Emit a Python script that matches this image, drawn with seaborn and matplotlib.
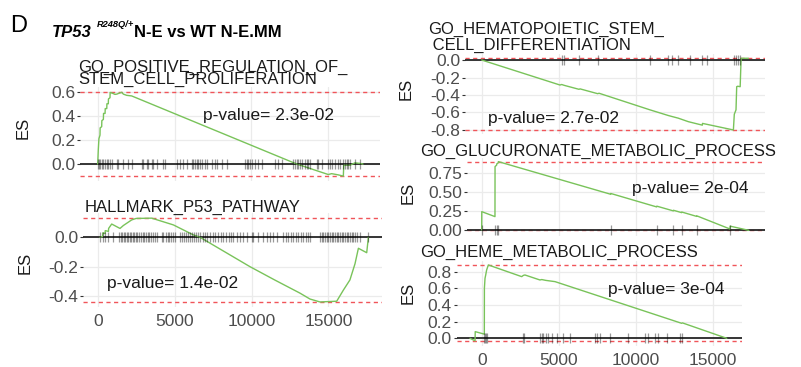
import numpy as np
import pandas as pd
import matplotlib
matplotlib.use("Agg")
import matplotlib.pyplot as plt
import seaborn as sns

# 1. Data (gene rank, running enrichment score)
pos_reg_x = [0, 40, 80, 150, 160, 260, 270, 370, 380, 480, 490, 590, 600, 690, 700, 800, 810, 1000, 1125, 1240,
             1340, 1560, 1670, 1885, 2210, 12940, 14000, 14990, 15210, 15430, 15640, 15970, 16000, 16400, 16730,
             17060, 17250]
pos_reg_es = [0.0, 0.12, 0.21, 0.24, 0.30, 0.31, 0.36, 0.37, 0.42, 0.42, 0.46, 0.46, 0.50, 0.50, 0.54, 0.55, 0.595,
              0.585, 0.578, 0.58, 0.585, 0.595, 0.58, 0.57, 0.565, 0.0, -0.045, -0.087, -0.08, -0.085, -0.09, -0.1,
              -0.01, -0.01, 0.01, 0.005, 0.0]
pos_reg_hits = [0, 60, 150, 260, 370, 480, 590, 690, 800, 910, 1240, 1340, 1670, 1990, 2210, 2860, 2970, 3190, 3290,
                3510, 3620, 3840, 4270, 4380, 5140, 5350, 5570, 5790, 6110, 6220, 6330, 6440, 6540, 6650, 6760, 6980,
                7090, 7410, 7630, 7740, 8060, 8390, 9590, 9690, 9800, 9900, 10010, 10230, 10440, 10660, 11530, 11740,
                11960, 12720, 12830, 12940, 13040, 13150, 13260, 13480, 13590, 13700, 13800, 14240, 14350, 14560,
                14990, 15100, 15210, 15430, 15640, 15750, 15970, 16080, 16190, 16300, 16400, 16730, 17060]

p53_x = [150, 320, 330, 480, 490, 700, 710, 910, 1000, 1450, 1670, 2210, 2500, 3510, 4920, 6220, 6650, 8000, 9900,
         11500, 13150, 13800, 14450, 15540, 15970, 16400, 16730, 16950, 17490, 17600]
p53_es = [0.0, 0.005, 0.03, 0.025, 0.045, 0.04, 0.06, 0.09, 0.085, 0.06, 0.08, 0.118, 0.128, 0.13, 0.084, 0.016, 0.0,
          -0.083, -0.2, -0.29, -0.38, -0.42, -0.44, -0.435, -0.36, -0.29, -0.18, -0.075, -0.105, 0.0]
p53_hits = [150, 320, 470, 690, 1020, 1410, 1490, 1600, 1690, 1780, 1880, 1990, 2100, 2190, 2270, 2380, 2490, 2580,
            2710, 2820, 2920, 3030, 3140, 3250, 3360, 3470, 3570, 3700, 3830, 4160, 4270, 4440, 4550, 4660, 4770,
            4870, 5030, 5350, 5480, 5610, 5740, 5870, 6000, 6130, 6260, 6390, 6520, 6650, 6820, 6980, 7130, 7300,
            7470, 7650, 7820, 7990, 8170, 8340, 8510, 8690, 8820, 9040, 9250, 9470, 9690, 10010, 10120, 10440,
            10770, 10990, 11200, 11420, 11640, 12070, 12240, 12390, 12550, 12720, 12890, 13040, 13200, 13370,
            13540, 13700, 13800, 14450, 14560, 14670, 14780, 14890, 15000, 15100, 15210, 15320, 15430, 15540,
            15650, 15750, 15860, 15970, 16080, 16190, 16300, 16400, 16510, 16620, 16730, 16880, 17050, 17600]

hsc_x = [0, 5070, 5180, 5350, 6300, 6370, 7510, 7600, 10900, 12090, 12300, 12730, 13380, 14290, 14300, 14570, 16300,
         16360, 16470, 16515, 16580, 16740, 16800, 17270]
hsc_es = [0.0, -0.286, -0.28, -0.29, -0.335, -0.33, -0.385, -0.38, -0.57, -0.635, -0.645, -0.665, -0.705, -0.745,
          -0.725, -0.735, -0.8, -0.62, -0.57, -0.305, -0.3, -0.305, 0.02, 0.02]
hsc_hits = [5180, 5350, 6300, 7510, 10900, 12090, 12300, 12730, 13490, 14290, 14570, 16360, 16470, 16580, 16740]

gluc_x = [0, 5, 860, 865, 970, 975, 1075, 1080, 8350, 8360, 11330, 11340, 12410, 12420, 12950, 12960, 13920, 13930,
          16080, 16090, 17300]
gluc_es = [0.0, 0.24, 0.175, 0.83, 0.85, 0.865, 0.88, 0.895, 0.468, 0.478, 0.302, 0.312, 0.25, 0.258, 0.227, 0.235,
           0.178, 0.185, 0.013, 0.05, -0.005]
gluc_hits = [0, 860, 970, 1075, 8350, 11330, 12410, 12950, 13920, 16080]

heme_x = [-760, -430, -420, 170, 175, 215, 260, 320, 430, 2590, 2700, 2800, 3770, 3890, 4150, 4750, 12950, 13000,
          15870]
heme_es = [0.0, -0.03, 0.08, 0.05, 0.6, 0.72, 0.76, 0.82, 0.88, 0.74, 0.755, 0.76, 0.70, 0.705, 0.695, 0.68, 0.18,
           0.185, 0.0]
heme_hits = [170, 215, 260, 320, 2690, 2760, 3780, 3890, 3990, 4150, 4310, 4530, 4860, 5280, 5720, 7340, 7450, 7660,
             8310, 9500, 10580, 10790, 11220, 11440, 11980, 12840, 12950]

titles = ["GO_POSITIVE_REGULATION_OF_\nSTEM_CELL_PROLIFERATION",
          "HALLMARK_P53_PATHWAY",
          "GO_HEMATOPOIETIC_STEM_\n CELL_DIFFERENTIATION",
          "GO_GLUCURONATE_METABOLIC_PROCESS",
          "GO_HEME_METABOLIC_PROCESS"]
pvalues = ["p-value= 2.3e-02", "p-value= 1.4e-02", "p-value= 2.7e-02", "p-value= 2e-04", "p-value= 3e-04"]
yticks = [[0.0, 0.2, 0.4, 0.6], [-0.4, -0.2, 0.0], [-0.8, -0.6, -0.4, -0.2, 0.0],
          [0.0, 0.25, 0.5, 0.75], [0.0, 0.2, 0.4, 0.6, 0.8]]
ytick_fmt = ["%.1f", "%.1f", "%.1f", "%.2f", "%.1f"]
xticks = [0, 5000, 10000, 15000]

curves = [(pos_reg_x, pos_reg_es, pos_reg_hits), (p53_x, p53_es, p53_hits), (hsc_x, hsc_es, hsc_hits),
          (gluc_x, gluc_es, gluc_hits), (heme_x, heme_es, heme_hits)]

# 2. Layout in pixels (box left, top, right, bottom), axis limits and text spots
W, H = 801, 367
boxes = [(80, 87.5, 380, 180.9), (83.3, 213.0, 381.7, 307.1), (465, 53.9, 765, 133.9),
         (466.7, 158.2, 765, 235.7), (456.7, 260.8, 741.7, 345.8)]
xlims = [(-1150, 18355), (-936, 18465), (-1082, 18348), (-971, 18348), (-1619, 16839)]
ylims = [(-0.14, 0.635), (-0.475, 0.165), (-0.845, 0.07), (-0.075, 0.94), (-0.09, 0.93)]
show_x = [False, True, False, False, True]
# top edge of the title block, and line spacing for the two-line titles
title_pos = [(78.5, 59.8), (85, 199.8), (428.3, 21.5), (420, 143.8), (420, 245)]
title_ls = [0.72, 1.0, 1.06, 1.0, 1.0]
es_pos = [(23, 127.5), (25, 263), (406, 89), (408, 193), (408, 293)]
pval_pos = [(6866, 0.365), (585, -0.347), (430, -0.716), (9715, 0.48), (8200, 0.532)]

GREEN = "#79C35A"
RED = "#F0555A"
GREY = "#4D4D4D"

sns.set_theme(style="whitegrid")
plt.rcParams["font.family"] = ["Liberation Sans", "DejaVu Sans"]
plt.rcParams["grid.color"] = "#EBEBEB"
plt.rcParams["grid.linewidth"] = 0.9

fig = plt.figure(figsize=(W / 100, H / 100), dpi=100)
fig.patch.set_facecolor("white")

# 3. Draw the five running-score panels
for i, (cx, ces, hits) in enumerate(curves):
    x0, y0, x1, y1 = boxes[i]
    ax = fig.add_axes([x0 / W, 1 - y1 / H, (x1 - x0) / W, (y1 - y0) / H])
    ax.set_facecolor("white")
    ax.axhline(0, color="#262626", lw=1.3, zorder=2)
    ax.axhline(max(ces), color=RED, lw=1.0, ls=(0, (3, 2.5)), zorder=1.5)
    ax.axhline(min(ces), color=RED, lw=1.0, ls=(0, (3, 2.5)), zorder=1.5)
    sns.lineplot(x=cx, y=ces, ax=ax, color=GREEN, linewidth=1.0, estimator=None, sort=False, zorder=3)
    ax.plot(hits, np.zeros(len(hits)), linestyle="none", marker="|", markersize=7, mew=0.9,
            color="black", alpha=0.4, zorder=4)
    ax.set_xlim(*xlims[i])
    ax.set_ylim(*ylims[i])
    ax.set_xticks(xticks)
    ax.set_yticks(yticks[i])
    ax.set_yticklabels([ytick_fmt[i] % v for v in yticks[i]])
    if show_x[i]:
        ax.set_xticklabels([str(v) for v in xticks])
    else:
        ax.set_xticklabels([])
    ax.tick_params(axis="y", length=2, width=0.8, color="#333333", pad=1.5, labelsize=12.5, labelcolor=GREY, left=True)
    ax.tick_params(axis="x", length=0, pad=5, labelsize=12.5, labelcolor=GREY)
    ax.set_xlabel("")
    ax.set_ylabel("")
    for s in ax.spines.values():
        s.set_visible(False)
    ax.text(pval_pos[i][0], pval_pos[i][1], pvalues[i], fontsize=12.5, color="#1a1a1a", va="baseline", ha="left")
    fig.text(title_pos[i][0] / W, 1 - title_pos[i][1] / H, titles[i], fontsize=12, color="#1a1a1a",
             va="top", ha="left", linespacing=title_ls[i])
    fig.text(es_pos[i][0] / W, 1 - es_pos[i][1] / H, "ES", fontsize=12, rotation=90, va="center", ha="center",
             color="#1a1a1a")

# 4. Header
fig.text(10 / W, 1 - 32 / H, "D", fontsize=17, va="baseline", ha="left", color="black")
fig.text(51.7 / W, 1 - 37.3 / H, "TP53", fontsize=12, fontweight="bold", fontstyle="italic", va="baseline",
         ha="left", color="black")
fig.text(96.5 / W, 1 - 27 / H, "R248Q/+", fontsize=6.7, fontweight="bold", fontstyle="italic", va="baseline",
         ha="left", color="black")
fig.text(134.5 / W, 1 - 37.3 / H, "N-E vs WT N-E.MM", fontsize=12, fontweight="bold", va="baseline", ha="left",
         color="black")

fig.savefig("out.png", dpi=100)
print("Exit")
